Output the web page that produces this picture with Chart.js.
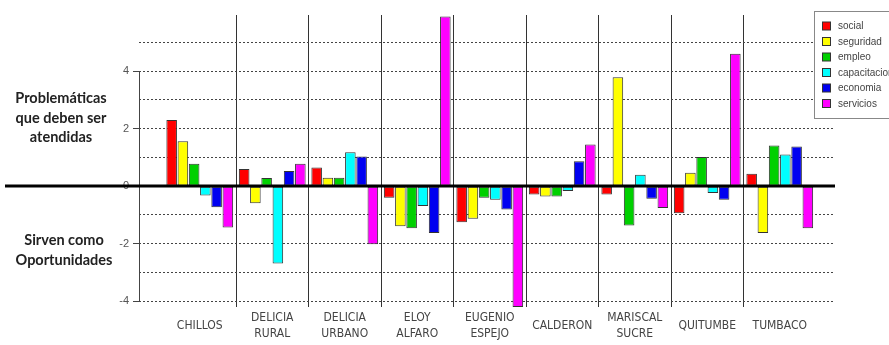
<!DOCTYPE html>
<html>
<head>
<meta charset="utf-8">
<script src="https://cdn.jsdelivr.net/npm/chart.js@4/dist/chart.umd.min.js"></script>
<style>
  html, body { margin: 0; padding: 0; background: #ffffff; }
  #wrap { width: 889px; height: 345px; position: relative; }
</style>
</head>
<body>
<div id="wrap"><canvas id="c" width="889" height="345"></canvas></div>
<script>
// ---- data ----
const categories = ['CHILLOS', ['DELICIA', 'RURAL'], ['DELICIA', 'URBANO'], ['ELOY', 'ALFARO'], ['EUGENIO', 'ESPEJO'], 'CALDERON', ['MARISCAL', 'SUCRE'], 'QUITUMBE', 'TUMBACO'];
const seriesNames = ['social', 'seguridad', 'empleo', 'capacitacion', 'economia', 'servicios'];
const social       = [2.30, 0.60, 0.65, -0.40, -1.25, -0.29, -0.29, -0.94, 0.43];
const seguridad    = [1.56, -0.59, 0.29, -1.39, -1.13, -0.36, 3.79, 0.47, -1.63];
const empleo       = [0.78, 0.28, 0.29, -1.46, -0.40, -0.36, -1.37, 1.01, 1.41];
const capacitacion = [-0.32, -2.69, 1.18, -0.69, -0.47, -0.17, 0.40, -0.24, 1.10];
const economia     = [-0.73, 0.53, 1.03, -1.63, -0.81, 0.87, -0.44, -0.47, 1.38];
const servicios    = [-1.44, 0.78, -2.02, 5.90, -4.20, 1.45, -0.76, 4.60, -1.46];
const yTickLabels  = [-4, -2, 0, 2, 4];
const upperNote = ['Problemáticas', 'que deben ser', 'atendidas'];
const lowerNote = ['Sirven como', 'Oportunidades'];

const seriesValues = [social, seguridad, empleo, capacitacion, economia, servicios];
const seriesColors = ['#ff0000', '#ffff00', '#00d000', '#00ffff', '#0000f0', '#ff00ff'];

const datasets = seriesNames.map((name, i) => ({
  label: name,
  data: seriesValues[i],
  backgroundColor: seriesColors[i],
  borderColor: '#333333',
  borderWidth: 1,
  borderSkipped: false,
  categoryPercentage: 0.93,
  barPercentage: 0.94
}));

const narrowFont = "'DejaVu Sans Condensed', 'Liberation Sans Narrow', 'Arial Narrow', 'Liberation Sans', sans-serif";

const decorPlugin = {
  id: 'decor',
  afterLayout(chart) {
    const x = chart.scales.x;
    const a = chart.chartArea;
    x.left = a.left + 24.5;
    x.right = a.right - 19;
    x.width = x.right - x.left;
    x.configure();
  },
  afterDatasetsDraw(chart) {
    const ctx = chart.ctx;
    const y = chart.scales.y;
    const a = chart.chartArea;
    ctx.save();
    // y axis line from 4 to -4
    ctx.strokeStyle = '#444';
    ctx.lineWidth = 1;
    ctx.beginPath();
    ctx.moveTo(a.left + 0.5, y.getPixelForValue(4));
    ctx.lineTo(a.left + 0.5, y.getPixelForValue(-4));
    ctx.stroke();
    // zero line
    const y0 = Math.round(y.getPixelForValue(0));
    ctx.strokeStyle = '#000';
    ctx.lineWidth = 3;
    ctx.beginPath();
    ctx.moveTo(5, y0);
    ctx.lineTo(a.right, y0);
    ctx.stroke();
    ctx.restore();
  },
  afterDraw(chart) {
    const ctx = chart.ctx;
    ctx.save();
    // side notes
    ctx.fillStyle = '#222';
    ctx.font = "bold 14.5px Lato, 'Open Sans', sans-serif";
    ctx.textAlign = 'center';
    ctx.textBaseline = 'middle';
    const upY = [98, 118, 137];
    upperNote.forEach((t, i) => ctx.fillText(t, 61, upY[i]));
    const loY = [240, 260];
    lowerNote.forEach((t, i) => ctx.fillText(t, 64, loY[i]));
    // legend
    const lx = 814.5, ly = 11.5;
    ctx.fillStyle = '#fff';
    ctx.fillRect(lx, ly, 100, 107);
    ctx.strokeStyle = '#888';
    ctx.lineWidth = 1;
    ctx.strokeRect(lx, ly, 100, 107);
    ctx.font = "10px 'Liberation Sans', Arial, sans-serif";
    ctx.textAlign = 'left';
    ctx.textBaseline = 'middle';
    chart.data.datasets.forEach((ds, i) => {
      const cy = 26 + i * 15.5;
      ctx.fillStyle = ds.backgroundColor;
      ctx.fillRect(822.5, cy - 4, 8, 8);
      ctx.strokeStyle = '#333';
      ctx.strokeRect(822.5, cy - 4, 8, 8);
      ctx.fillStyle = '#444';
      ctx.fillText(ds.label, 838, cy + 0.5);
    });
    ctx.restore();
  }
};

new Chart(document.getElementById('c'), {
  type: 'bar',
  data: { labels: categories, datasets },
  options: {
    responsive: false,
    animation: false,
    devicePixelRatio: 1,
    layout: { padding: { top: 15, right: 54, left: 0, bottom: 0 } },
    plugins: { legend: { display: false }, tooltip: { enabled: false } },
    scales: {
      x: {
        afterFit: (s) => { s.height = 38; },
        border: { display: false },
        grid: {
          offset: true,
          drawTicks: false,
          color: (c) => (c.type === 'tick' && c.index > 0) ? '#333' : 'rgba(0,0,0,0)',
          lineWidth: 1
        },
        ticks: {
          autoSkip: false,
          maxRotation: 0,
          minRotation: 0,
          padding: 11,
          crossAlign: 'center',
          color: '#444',
          font: { family: narrowFont, size: 12, lineHeight: 1.35 }
        }
      },
      y: {
        min: -4.2,
        max: 5.95,
        afterFit: (s) => { s.width = 139; },
        border: { display: false, dash: [2, 2] },
        grid: {
          color: (c) => (c.tick && c.tick.value === 0) ? 'rgba(0,0,0,0)' : '#444',
          lineWidth: 1,
          drawTicks: true,
          tickLength: 6,
          tickBorderDash: [],
          tickColor: (c) => (c.tick && yTickLabels.includes(c.tick.value)) ? '#444' : 'rgba(0,0,0,0)'
        },
        ticks: {
          stepSize: 1,
          includeBounds: false,
          autoSkip: false,
          padding: 4,
          color: '#555',
          font: { family: "'Liberation Sans', Arial, sans-serif", size: 11 },
          callback: (v) => yTickLabels.includes(v) ? String(v) : ''
        }
      }
    }
  },
  plugins: [decorPlugin]
});
</script>
</body>
</html>
